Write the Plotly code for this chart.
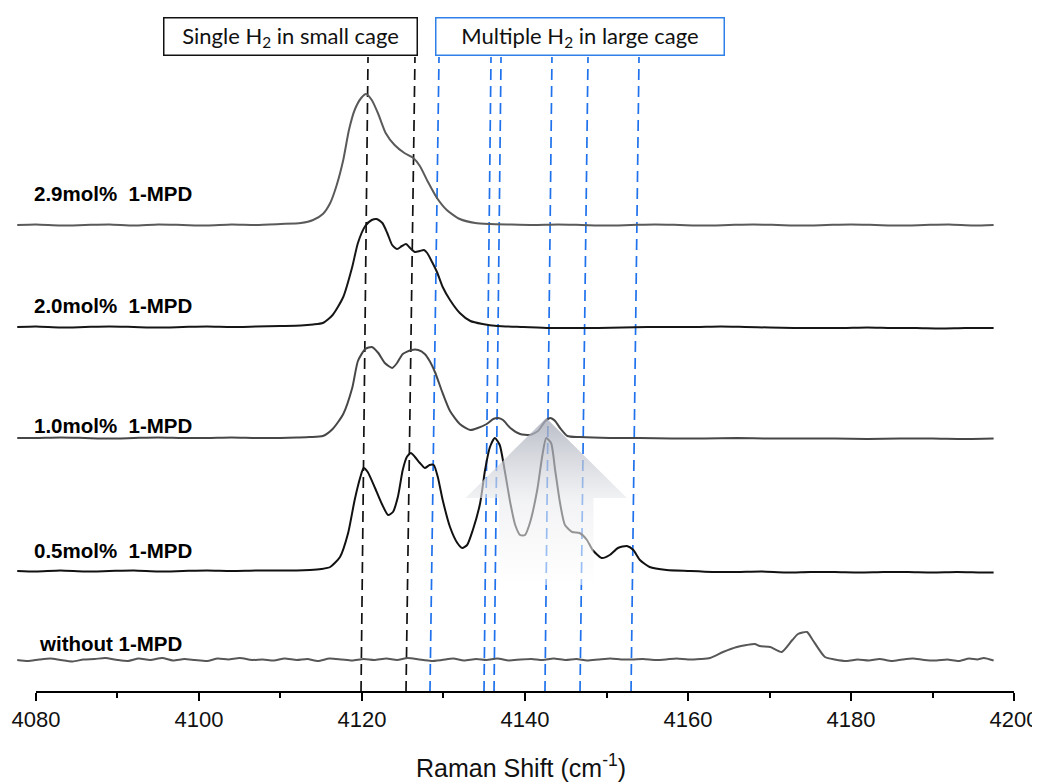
import plotly.graph_objects as go

# ---------------- data (Raman shift in cm^-1, intensity in arbitrary units) ----------------
X_29 = [4077.7, 4080, 4083, 4086, 4089, 4092, 4095, 4098, 4101, 4104,
        4107, 4110, 4112.5, 4114.0, 4115.2, 4116.1, 4116.9, 4117.7, 4118.4, 4119.1,
        4119.9, 4120.5, 4121.2, 4122.0, 4122.9, 4124.0, 4125.2, 4126.3, 4127.1, 4128.1,
        4129.2, 4130.4, 4132.0, 4133.9, 4135.7, 4138, 4141, 4144, 4147, 4150,
        4153, 4156, 4159, 4162, 4165, 4168, 4171, 4174, 4177, 4180,
        4183, 4186, 4189, 4192, 4195, 4197.5]
Y_29 = [0, 0.5, -0.5, 0, 0.5, -0.5, 0.5, 0, -0.5, 0.5,
        0, 1, 2, 5, 11, 22, 40, 65, 95, 115,
        127, 131, 125, 111, 92, 80, 72, 67, 59, 43,
        27, 15, 6, 2, 1, 0.5, 0, 0.5, 0, -0.5,
        0, 0.5, 0, -0.5, 0, 0.5, 0, -0.5, 0, 0.5,
        0, -0.5, 0, 0.5, -0.5, 0]

X_20 = [4077.7, 4080, 4083, 4086, 4089, 4092, 4095, 4098, 4101, 4104,
        4107, 4110, 4112.5, 4114.0, 4115.2, 4116.4, 4117.7, 4118.8, 4119.5, 4120.4,
        4121.2, 4121.8, 4122.5, 4123.1, 4123.7, 4124.3, 4124.9, 4125.4, 4125.9, 4126.5,
        4127.1, 4127.6, 4128.0, 4128.6, 4129.2, 4129.9, 4130.8, 4132.0, 4133.3, 4134.8,
        4136.6, 4139.8, 4143, 4146, 4149, 4152, 4155, 4158, 4161, 4164,
        4167, 4170, 4173, 4176, 4179, 4182, 4185, 4188, 4191, 4194,
        4197.5]
Y_20 = [0, 0.5, -0.5, 0, 0.5, 0, -0.5, 0, 0.5, 0,
        0.5, 1, 1.5, 2.5, 4, 12, 30, 60, 84, 101,
        107, 108, 104, 94, 82, 78, 81, 83, 79, 75,
        76, 77, 74, 65, 55, 40, 27, 14, 6, 3,
        1, 0, -1, -1, -1, -0.5, 0, 0, 0, 0.5,
        0, -0.5, -1, -1, -1, -0.5, -1, -1, -1.5, -1,
        -1]

X_10 = [4077.7, 4080, 4083, 4086, 4089, 4092, 4095, 4098, 4101, 4104,
        4107, 4110, 4112, 4113.6, 4115.2, 4116.4, 4117.7, 4118.8, 4119.5, 4120.4,
        4121.2, 4122.0, 4122.8, 4123.7, 4124.3, 4125.0, 4126.1, 4126.9, 4127.7, 4128.3,
        4129.0, 4129.8, 4130.8, 4132.0, 4133.3, 4134.2, 4135.3, 4136.1, 4136.7, 4137.3,
        4138.2, 4139.4, 4140.6, 4141.6, 4142.5, 4143.1, 4143.7, 4144.3, 4145.2, 4146.7,
        4150.4, 4154, 4158, 4162, 4166, 4170, 4174, 4178, 4182, 4186,
        4190, 4194, 4197.5]
Y_10 = [0, 0, 0.5, 0, -0.5, 0, 0.5, 0, 0, 0.5,
        0, 0, 0.5, 1, 2, 9, 24, 50, 77, 89,
        91, 85, 75, 70, 75, 84, 88, 88, 84, 77,
        65, 47, 27, 14, 8, 10, 14, 19, 20, 18,
        10, 4, 3, 7, 17, 20, 17, 10, 2, 1,
        0, 0, -0.5, -0.5, 0, -0.5, -0.5, -0.5, -1, -0.5,
        -0.5, -1, -0.5]

X_05 = [4077.7, 4080, 4083, 4086, 4089, 4092, 4095, 4098, 4101, 4104,
        4107, 4110, 4112, 4113.6, 4115.0, 4116.1, 4117.3, 4118.3, 4119.1, 4119.8,
        4120.2, 4120.7, 4121.6, 4122.5, 4123.2, 4123.8, 4124.4, 4125.0, 4125.5, 4126.0,
        4126.5, 4127.1, 4127.7, 4128.3, 4128.8, 4129.3, 4129.9, 4130.8, 4131.7, 4132.3,
        4132.9, 4133.6, 4134.5, 4135.1, 4135.7, 4136.3, 4136.9, 4137.5, 4138.2, 4138.8,
        4139.4, 4140.0, 4140.6, 4141.5, 4142.1, 4142.6, 4143.2, 4143.7, 4144.3, 4144.9,
        4145.8, 4146.7, 4147.6, 4148.3, 4149.4, 4150.4, 4151.4, 4152.5, 4153.3, 4154.1,
        4155.3, 4157.4, 4160, 4163, 4166, 4169, 4172, 4175, 4178, 4181,
        4184, 4187, 4190, 4193, 4196, 4197.5]
Y_05 = [0, -0.5, 0.5, -0.5, 0, 0.5, -0.5, 0, 0.5, 0,
        0.5, 0.5, 0.5, 1, 2, 4, 14, 38, 71, 94,
        103, 99, 83, 66, 56, 59, 74, 101, 114, 118,
        114, 108, 103, 106, 106, 94, 71, 44, 28, 23,
        26, 41, 68, 101, 124, 133, 126, 101, 68, 46,
        36, 36, 48, 81, 114, 133, 128, 101, 68, 46,
        39, 38, 31, 21, 13, 16, 23, 25, 21, 11,
        4, 1, 0, -1, -1, -0.5, -1.5, -1, -1, -1.5,
        -1, -1, -1.5, -1, -1.5, -1.5]

X_00 = [4077.7, 4079.0, 4080.4, 4081.8, 4083.0, 4084.5, 4085.8, 4087.2, 4088.5, 4090.0,
        4091.3, 4092.6, 4094.0, 4095.5, 4096.8, 4098.2, 4099.5, 4101.0, 4102.3, 4103.6,
        4105.0, 4106.5, 4107.8, 4109.2, 4110.5, 4112.0, 4113.3, 4114.6, 4116.0, 4117.5,
        4118.8, 4120.2, 4121.5, 4123.0, 4124.3, 4125.6, 4127.0, 4128.5, 4129.8, 4131.2,
        4132.5, 4134.0, 4135.3, 4136.6, 4138.0, 4139.5, 4140.8, 4142.2, 4143.5, 4145.0,
        4146.3, 4147.6, 4149.0, 4150.5, 4151.8, 4153.2, 4154.5, 4156.0, 4157.3, 4158.6,
        4160.0, 4161.5, 4162.7, 4164.3, 4166.0, 4167.2, 4168.2, 4168.8, 4170.1, 4171.5,
        4172.8, 4173.5, 4174.6, 4175.3, 4176.8, 4178.0, 4179.5, 4180.8, 4182.2, 4183.5,
        4185.0, 4186.3, 4187.6, 4189.0, 4190.5, 4191.8, 4193.2, 4194.5, 4195.5, 4196.3,
        4197.5]
Y_00 = [0, -1, 0.5, 1.5, 0, -1.5, 0.5, 1, 2, 0,
        -1, 1.5, 0, 2, -0.5, 1, 0, -1, 1.5, 0.5,
        2, 0, 0.5, -0.5, 1.5, 0, 1, -1, 1.5, 0.5,
        -0.5, 1, 0, 1.5, 0, 2, 0.5, -1, 0, 1.5,
        -0.5, 1, 0, 1.5, -0.5, 0.5, 1, 0, 1.5, 0,
        1, -0.5, 0.5, 1.5, 0.5, 0.5, 1, 0, 0.5, 1.5,
        0.5, 1, 2, 8, 13, 15, 16, 14, 13, 8,
        20, 26, 28, 20, 3, 0.5, -1, 0.5, -0.5, 1,
        -1, 0.5, 1.5, 0, -0.5, 0.5, -1, 1.5, 0.5, 2,
        -0.5]

SERIES_LABELS = ["2.9mol%\u00a0\u00a01-MPD", "2.0mol%\u00a0\u00a01-MPD", "1.0mol%\u00a0\u00a01-MPD",
                 "0.5mol%\u00a0\u00a01-MPD", "without 1-MPD"]
SERIES_OFFSETS = [467, 365, 254, 121, 32]          # vertical stacking offsets
SERIES_COLORS = ["#5a5a5a", "#161616", "#474747", "#111111", "#575757"]
SERIES_X = [X_29, X_20, X_10, X_05, X_00]
SERIES_Y = [Y_29, Y_20, Y_10, Y_05, Y_00]

# assignment guide lines: (bottom, top) Raman shift
SMALL_CAGE_BOTTOM = [4119.88, 4125.40]
SMALL_CAGE_TOP = [4120.74, 4126.50]
LARGE_CAGE_BOTTOM = [4128.34, 4134.97, 4136.20, 4142.45, 4146.75, 4153.01]
LARGE_CAGE_TOP = [4129.45, 4135.83, 4137.06, 4143.31, 4147.73, 4153.99]

X_TICKS = [4080, 4100, 4120, 4140, 4160, 4180, 4200]
X_MINOR_TICKS = [4090, 4110, 4130, 4150, 4170, 4190]

# ---------------- figure ----------------
X_MIN, X_MAX = 4077.67, 4200
Y_MAX = 684
LINE_TOP = 635

fig = go.Figure()

for xs, ys, off, col in zip(SERIES_X, SERIES_Y, SERIES_OFFSETS, SERIES_COLORS):
    fig.add_trace(go.Scatter(
        x=xs, y=[v + off for v in ys], mode="lines",
        line=dict(color=col, width=2, shape="spline", smoothing=0.6),
        hoverinfo="skip", showlegend=False))

# translucent upward arrow (decoration)
ax_c, tip_y, base_y, tail_y = 4142.6, 274, 194, 107
head_h, shaft_h = 9.9, 5.8
arrow_x = [ax_c, ax_c + head_h, ax_c + shaft_h, ax_c + shaft_h, ax_c - shaft_h, ax_c - shaft_h, ax_c - head_h, ax_c]
arrow_y = [tip_y, base_y, base_y, tail_y, tail_y, base_y, base_y, tip_y]
fig.add_trace(go.Scatter(
    x=arrow_x, y=arrow_y, mode="lines", fill="toself",
    line=dict(width=0, color="rgba(0,0,0,0)"),
    fillgradient=dict(type="vertical", colorscale=[
        [0.0, "rgba(255,255,255,0.55)"],
        [0.5, "rgba(234,235,238,0.6)"],
        [1.0, "rgba(166,170,184,0.78)"]]),
    hoverinfo="skip", showlegend=False))

shapes = []
for xb, xt in zip(SMALL_CAGE_BOTTOM, SMALL_CAGE_TOP):
    shapes.append(dict(type="line", xref="x", yref="y", x0=xb, y0=0, x1=xt, y1=LINE_TOP,
                       line=dict(color="#111111", width=1.7, dash="11px,6px"), layer="below"))
for xb, xt in zip(LARGE_CAGE_BOTTOM, LARGE_CAGE_TOP):
    shapes.append(dict(type="line", xref="x", yref="y", x0=xb, y0=0, x1=xt, y1=LINE_TOP,
                       line=dict(color="#1f72ec", width=1.7, dash="11px,6px"), layer="below"))
# bottom axis line from 4080 to 4200
shapes.append(dict(type="line", xref="paper", yref="paper",
                   x0=(4080 - X_MIN) / (X_MAX - X_MIN), x1=1, y0=0, y1=0,
                   line=dict(color="black", width=2)))

annotations = []
label_y = [499, 387, 267, 142, 49]
label_x = [4079.5, 4079.5, 4079.5, 4079.5, 4080.1]
for txt, lx, ly in zip(SERIES_LABELS, label_x, label_y):
    annotations.append(dict(x=lx, y=ly, xref="x", yref="y", text="<b>" + txt + "</b>",
                            showarrow=False, xanchor="left", yanchor="middle",
                            font=dict(family="Liberation Sans, Arial", size=20.5, color="black")))

annotations.append(dict(x=4111.2, y=656, xref="x", yref="y", showarrow=False,
                        text="Single H<sub>2</sub> in small cage", width=250, height=34,
                        bordercolor="#111111", borderwidth=1.5, borderpad=1, bgcolor="white",
                        font=dict(family="Lato, Carlito, Calibri", size=22, color="#111111")))
annotations.append(dict(x=4146.8, y=656, xref="x", yref="y", showarrow=False,
                        text="Multiple H<sub>2</sub> in large cage", width=285, height=34,
                        bordercolor="#2f80e8", borderwidth=1.5, borderpad=1, bgcolor="white",
                        font=dict(family="Lato, Carlito, Calibri", size=22, color="#111111")))
annotations.append(dict(x=0.5055, y=-0.108, xref="paper", yref="paper", showarrow=False,
                        text="Raman Shift (cm<sup>-1</sup>)", xanchor="center", yanchor="middle",
                        font=dict(family="Liberation Sans, Arial", size=25, color="#111111")))

fig.update_layout(
    width=1032, height=774,
    margin=dict(l=9, r=26, t=0, b=90),
    paper_bgcolor="white", plot_bgcolor="white",
    showlegend=False,
    shapes=shapes, annotations=annotations,
    xaxis=dict(range=[X_MIN, X_MAX], showgrid=False, zeroline=False, showline=False,
               tickmode="array", tickvals=X_TICKS, ticktext=[str(t) for t in X_TICKS],
               ticks="outside", ticklen=8, tickwidth=1.6, tickcolor="black",
               minor=dict(tickvals=X_MINOR_TICKS, ticks="outside",
                          ticklen=5, tickwidth=1.6, tickcolor="black"),
               tickfont=dict(family="Liberation Sans, Arial", size=22, color="#111111")),
    yaxis=dict(range=[0, Y_MAX], visible=False, showgrid=False, zeroline=False),
)

fig.write_html("out.html")
